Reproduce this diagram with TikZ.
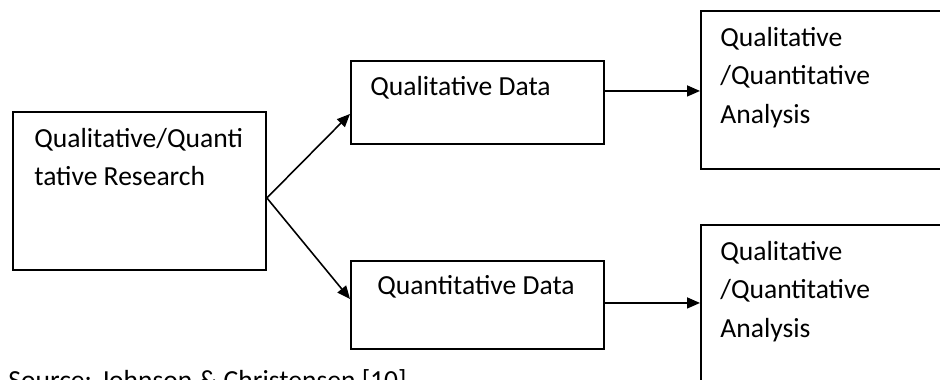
\documentclass[tikz,border=0pt]{standalone}
\usepackage{fontspec}
\setmainfont{Carlito}
\usetikzlibrary{arrows.meta}

\tikzset{
  box/.style={draw, line width=1.1pt, anchor=north west, minimum width=5.06cm, inner sep=0pt},
  txt/.style={anchor=base west, align=left, inner sep=0pt, font=\fontsize{15.7}{21.2}\selectfont},
  arr/.style={line width=0.9pt, -{Triangle[length=0.26cm,width=0.22cm]}}
}

\begin{document}
\begin{tikzpicture}[x=0.02cm, y=-0.02cm]
            \clip (0,0) rectangle (940,379);
            % box corners
            \coordinate (R) at (12,111);
            \coordinate (QL) at (350,60);
            \coordinate (QN) at (350,260);
            \coordinate (A1) at (700,10);
            \coordinate (A2) at (700,224);
            \node [box, minimum height=3.16cm] (research) at (R) {};
            \node [box, minimum height=1.66cm] (qualdata) at (QL) {};
            \node [box, minimum height=1.76cm] (quantdata) at (QN) {};
            \node [box, minimum width=6cm, minimum height=3.16cm] (analysisA) at (A1) {};
            \node [box, minimum width=6cm, minimum height=4cm] (analysisB) at (A2) {};
            % texts (base = last line)
            \node [txt] (researchtxt) at (34,185) {Qualitative/Quanti\\tative Research};
            \node [txt] (qualtxt) at (370,95) {Qualitative Data};
            \node [txt] (quanttxt) at (377,294) {Quantitative Data};
            \node [txt, font=\fontsize{15.7}{21.8}\selectfont] (analysisAtxt) at (720,123) {Qualitative\\/Quantitative\\Analysis};
            \node [txt, font=\fontsize{15.7}{21.8}\selectfont] (analysisBtxt) at (720,337) {Qualitative\\/Quantitative\\Analysis};
            \node [txt] (source) at (8,389) {Source: Johnson \& Christensen [10]};
            % arrows
            \coordinate (split) at ([yshift=-0.14cm]research.east);
            \coordinate (qa) at ([yshift=0.23cm]qualdata.east);
            \coordinate (qb) at ([yshift=0.04cm]quantdata.east);
            \draw [arr] (split) -- ([yshift=-0.23cm]qualdata.west);
            \draw [arr] (split) -- ([yshift=0.12cm]quantdata.west);
            \draw [arr] (qa) -- (qa -| analysisA.west);
            \draw [arr] (qb) -- (qb -| analysisB.west);
\end{tikzpicture}
\end{document}
